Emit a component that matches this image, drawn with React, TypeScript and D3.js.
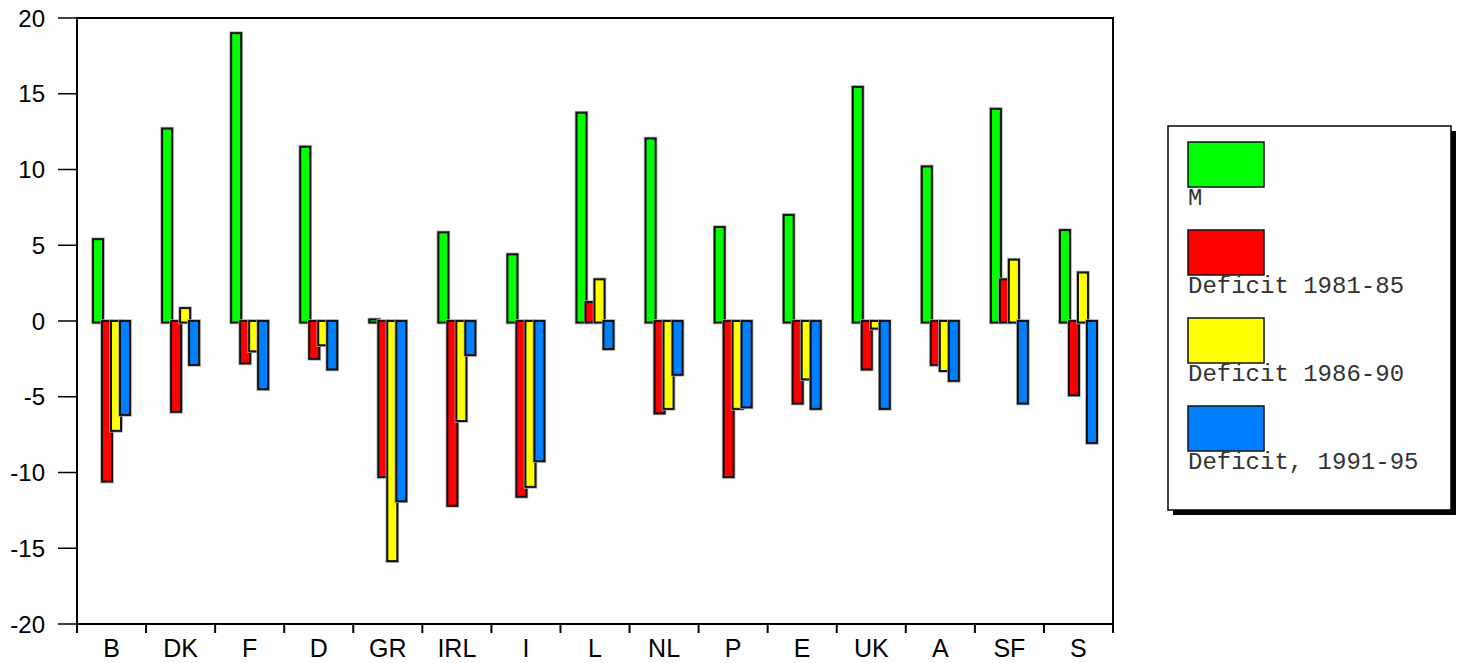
import * as d3 from 'd3';

const categories = ['B', 'DK', 'F', 'D', 'GR', 'IRL', 'I', 'L', 'NL', 'P', 'E', 'UK', 'A', 'SF', 'S'];
const seriesNames = ['M', 'Deficit 1981-85', 'Deficit 1986-90', 'Deficit, 1991-95'];
const seriesColors = ['#00ff00', '#ff0000', '#ffff00', '#0080ff'];
const mValues = [5.4, 12.7, 19.0, 11.5, 0.1, 5.85, 4.4, 13.75, 12.05, 6.2, 7.0, 15.45, 10.2, 14.0, 6.0];
const deficit8185 = [-10.6, -6.0, -2.8, -2.5, -10.3, -12.2, -11.6, 1.25, -6.1, -10.3, -5.45, -3.2, -2.9, 2.75, -4.9];
const deficit8690 = [-7.25, 0.85, -2.0, -1.6, -15.85, -6.6, -10.95, 2.75, -5.8, -5.8, -3.85, -0.5, -3.3, 4.05, 3.2];
const deficit9195 = [-6.2, -2.9, -4.5, -3.2, -11.9, -2.25, -9.25, -1.85, -3.55, -5.7, -5.8, -5.8, -3.95, -5.45, -8.05];
const yTicks = [-20, -15, -10, -5, 0, 5, 10, 15, 20];

const series = [mValues, deficit8185, deficit8690, deficit9195];

export default function App() {
  const width = 1463;
  const height = 663;
  const left = 77;
  const right = 1113;
  const top = 18;
  const bottom = 624;

  const x = d3.scaleBand<string>().domain(categories).range([left, right]);
  const inner = d3.scalePoint<number>().domain(d3.range(series.length)).range([-13.5, 13.5]);
  const y = d3.scaleLinear().domain([-20, 20]).range([bottom, top]);
  const barW = 10;
  const y0 = y(0);

  const axisFont = '"Liberation Sans", Arial, sans-serif';
  const legendFont = '"Liberation Mono", "Courier New", monospace';

  const legendX = 1168;
  const legendY = 126;
  const legendW = 283;
  const legendH = 384;

  return (
    <svg width={width} height={height} style={{ position: 'absolute', left: 0, top: 0, background: '#fff' }}>
      {/* bars, later series drawn on top */}
      {series.map((vals, si) => (
        <g key={si}>
          {vals.map((v, ci) => {
            const cx = (x(categories[ci]) as number) + x.bandwidth() / 2 + (inner(si) as number);
            const yTop = v >= 0 ? y(v) : y0;
            const yBot = v >= 0 ? y0 + 1.5 : y(v);
            return (
              <g key={ci}>
                <rect x={cx - barW / 2} y={yTop} width={barW} height={Math.max(0.5, yBot - yTop)}
                  fill="none" stroke="#aaa" strokeWidth={3.5} />
                <rect x={cx - barW / 2} y={yTop} width={barW} height={Math.max(0.5, yBot - yTop)}
                  fill={seriesColors[si]} stroke="#111" strokeWidth={2} />
              </g>
            );
          })}
        </g>
      ))}

      {/* frame */}
      <rect x={left} y={top} width={right - left} height={bottom - top} fill="none" stroke="#000" strokeWidth={2} />

      {/* y axis */}
      {yTicks.map(t => (
        <g key={t}>
          <line x1={58} x2={left} y1={y(t)} y2={y(t)} stroke="#000" strokeWidth={1.5} />
          <text x={45} y={y(t)} dy="0.36em" textAnchor="end" fontFamily={axisFont} fontSize={24} fill="#000">{t}</text>
        </g>
      ))}

      {/* x axis */}
      {categories.map((c, i) => (
        <g key={c}>
          <line x1={x(c) as number} x2={x(c) as number} y1={bottom} y2={bottom + 9} stroke="#000" strokeWidth={2} />
          {i === categories.length - 1 && (
            <line x1={right} x2={right} y1={bottom} y2={bottom + 9} stroke="#000" strokeWidth={2} />
          )}
          <text x={(x(c) as number) + x.bandwidth() / 2} y={657} textAnchor="middle" fontFamily={axisFont} fontSize={25} fill="#000">{c}</text>
        </g>
      ))}

      {/* legend */}
      <rect x={legendX + 5} y={legendY + 5} width={legendW} height={legendH} fill="#000" />
      <rect x={legendX} y={legendY} width={legendW} height={legendH} fill="#fff" stroke="#000" strokeWidth={1.5} />
      {seriesNames.map((name, i) => (
        <g key={name}>
          <rect x={1188} y={142 + i * 88} width={76} height={45} fill={seriesColors[i]} stroke="#111" strokeWidth={1.5} />
          <text x={1188} y={205 + i * 88} fontFamily={legendFont} fontSize={24} fill="#333">{name}</text>
        </g>
      ))}
    </svg>
  );
}
